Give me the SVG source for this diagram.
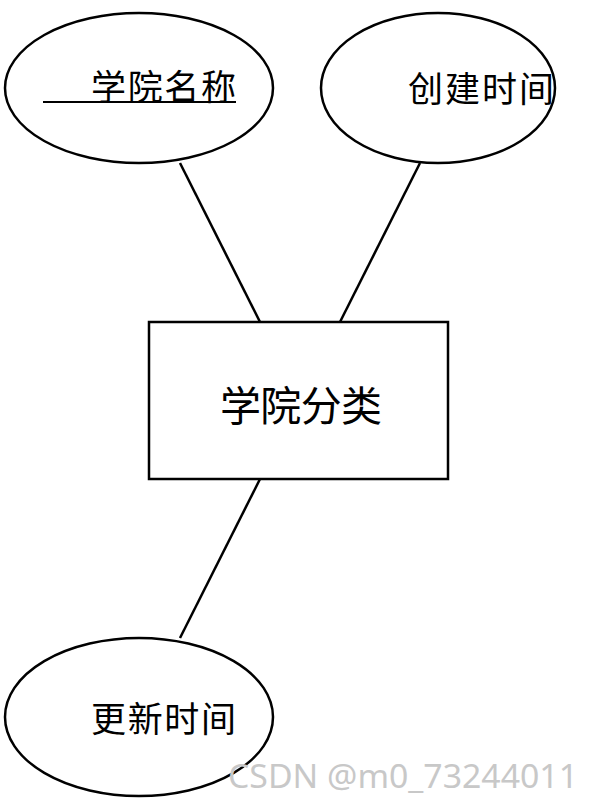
<svg xmlns="http://www.w3.org/2000/svg" width="596" height="802" viewBox="0 0 596 802">
<style>
.shape{fill:#fff;stroke:#000;stroke-width:2.5}
.conn line{stroke:#000;stroke-width:2.5}
.lbl{font-family:"Noto Sans CJK SC","Noto Sans",sans-serif;fill:#000;dominant-baseline:central}
.wm{font-family:"Noto Sans","Liberation Sans",sans-serif;fill:#c8c8c8;font-size:33px}
</style>
<rect width="596" height="802" fill="#fff"/>
<g id="connectors" class="conn">
<line x1="180" y1="163" x2="260" y2="322"/>
<line x1="420" y1="163" x2="340" y2="322"/>
<line x1="260" y1="479" x2="180" y2="638"/>
</g>
<g id="attr-name">
<ellipse class="shape" cx="139" cy="88" rx="134" ry="75"/>
<text class="lbl" x="91" y="84" font-size="35" textLength="145" lengthAdjust="spacing">学院名称</text>
<line x1="43" y1="102" x2="236" y2="102" stroke="#000" stroke-width="2"/>
</g>
<g id="attr-created">
<ellipse class="shape" cx="438" cy="88" rx="117" ry="75"/>
<text class="lbl" x="408" y="86" font-size="35" textLength="146" lengthAdjust="spacing">创建时间</text>
</g>
<g id="entity">
<rect class="shape" x="149" y="322" width="299" height="157"/>
<text class="lbl" x="220" y="403" font-size="41" textLength="162" lengthAdjust="spacing">学院分类</text>
</g>
<g id="attr-updated">
<ellipse class="shape" cx="139" cy="717" rx="134" ry="79"/>
<text class="lbl" x="91" y="716" font-size="35" textLength="145" lengthAdjust="spacing">更新时间</text>
</g>
<text class="wm" x="228" y="788" textLength="350" lengthAdjust="spacingAndGlyphs">CSDN @m0_73244011</text>
</svg>
